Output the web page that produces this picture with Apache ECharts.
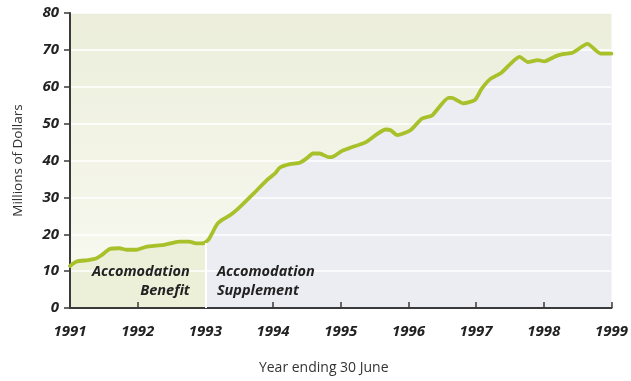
<!DOCTYPE html>
<html>
<head>
<meta charset="utf-8">
<script src="https://cdn.jsdelivr.net/npm/echarts@6/dist/echarts.min.js"></script>
<style>
  html, body { margin: 0; padding: 0; background: #ffffff; }
  #chart { width: 631px; height: 381px; }
</style>
</head>
<body>
<div id="chart"></div>
<script>
// Accommodation assistance spending, year ending 30 June (decimal years)
const periods = [
  1991.000, 1991.098, 1991.268, 1991.391, 1991.464, 1991.586, 1991.733, 1991.831,
  1991.977, 1992.124, 1992.270, 1992.392, 1992.612, 1992.758, 1992.880, 1992.978,
  1993.051, 1993.173, 1993.246, 1993.369, 1993.516, 1993.711, 1993.905, 1994.029,
  1994.102, 1994.248, 1994.395, 1994.492, 1994.590, 1994.688, 1994.824, 1994.883,
  1995.019, 1995.151, 1995.371, 1995.664, 1995.737, 1995.835, 1996.030, 1996.201,
  1996.348, 1996.593, 1996.641, 1996.812, 1996.982, 1997.081, 1997.202, 1997.374,
  1997.545, 1997.642, 1997.765, 1997.912, 1998.008, 1998.179, 1998.301, 1998.424,
  1998.644, 1998.839, 1998.960, 1999.000
];
// Millions of dollars
const spending = [
  11.4, 12.6, 13.0, 13.5, 14.3, 16.0, 16.2, 15.8,
  15.8, 16.6, 16.9, 17.1, 18.0, 18.0, 17.5, 17.6,
  18.7, 22.7, 23.9, 25.2, 27.5, 31.0, 34.6, 36.5,
  38.1, 39.0, 39.4, 40.5, 41.9, 41.9, 40.9, 41.0,
  42.6, 43.5, 45.0, 48.4, 48.2, 46.9, 48.2, 51.4,
  52.2, 57.0, 57.0, 55.5, 56.4, 59.4, 62.0, 63.8,
  66.9, 68.1, 66.7, 67.2, 66.9, 68.3, 68.9, 69.2,
  71.6, 69.0, 69.0, 69.0
];
// Changeover from Accomodation Benefit to Accomodation Supplement
const changeoverYear = 1993;
const changeoverValue = 17.6;
const yearTicks = [1991, 1992, 1993, 1994, 1995, 1996, 1997, 1998, 1999];
const valueTicks = [0, 10, 20, 30, 40, 50, 60, 70, 80];

const points = periods.map((p, i) => [p, spending[i]]);
const xMin = yearTicks[0], xMax = yearTicks[yearTicks.length - 1];
const splitAt = (changeoverYear - xMin) / (xMax - xMin);

const tickFont = {
  fontFamily: 'Open Sans', fontWeight: 'bold', fontStyle: 'italic',
  fontSize: 15, color: '#222222'
};
const axisDark = '#3a3a3a';

const chart = echarts.init(document.getElementById('chart'), null, { renderer: 'canvas' });
chart.setOption({
  animation: false,
  backgroundColor: '#ffffff',
  grid: {
    left: 70, right: 15, top: 13, bottom: 73,
    show: true, borderWidth: 0,
    backgroundColor: new echarts.graphic.LinearGradient(0, 0, 0, 1, [
      { offset: 0, color: '#eceedb' },
      { offset: 1, color: '#f9faf2' }
    ])
  },
  xAxis: {
    type: 'value', min: xMin, max: xMax, interval: 1, z: 2,
    name: 'Year ending 30 June', nameLocation: 'middle', nameGap: 53,
    nameTextStyle: { fontFamily: 'Open Sans', fontSize: 14, color: '#333333', padding: [0, 34, 0, 0] },
    axisLine: { lineStyle: { color: axisDark, width: 2 } },
    axisTick: { inside: true, length: 6, lineStyle: { color: axisDark, width: 1.5 } },
    axisLabel: Object.assign({ margin: 16, formatter: v => String(v) }, tickFont),
    splitLine: { show: false }
  },
  yAxis: {
    type: 'value', min: valueTicks[0], max: valueTicks[valueTicks.length - 1], interval: 10, z: 2,
    name: 'Millions of Dollars', nameLocation: 'middle', nameGap: 45,
    nameTextStyle: { fontFamily: 'Open Sans', fontSize: 13.5, color: '#333333' },
    axisLine: { show: true, lineStyle: { color: axisDark, width: 2 } },
    axisTick: { show: true, inside: false, length: 6, lineStyle: { color: axisDark, width: 1.5 } },
    axisLabel: Object.assign({ margin: 11 }, tickFont),
    splitLine: { show: true, lineStyle: { color: '#ffffff', width: 1.5 } }
  },
  series: [
    {
      name: 'area',
      type: 'line',
      data: points,
      z: 1,
      symbol: 'none',
      smooth: 0.2,
      lineStyle: { width: 0 },
      areaStyle: {
        opacity: 1,
        color: new echarts.graphic.LinearGradient(0, 0, 1, 0, [
          { offset: 0, color: '#edf0d9' },
          { offset: splitAt, color: '#edf0d9' },
          { offset: splitAt, color: '#ececf3' },
          { offset: 1, color: '#ececf3' }
        ])
      },
      markLine: {
        silent: true, symbol: 'none', animation: false,
        lineStyle: { color: '#ffffff', width: 2, type: 'solid' },
        label: { show: false },
        data: [[{ coord: [changeoverYear, 0] }, { coord: [changeoverYear, changeoverValue] }]]
      },
      markPoint: {
        silent: true, symbol: 'circle', symbolSize: 0,
        label: {
          show: true, position: 'inside',
          fontFamily: 'Open Sans', fontWeight: 'bold', fontStyle: 'italic',
          fontSize: 14.5, color: '#222222', lineHeight: 19
        },
        data: [
          { coord: [1992.77, 7.3], label: { formatter: 'Accomodation\nBenefit', align: 'right' } },
          { coord: [1993.17, 7.3], label: { formatter: 'Accomodation\nSupplement', align: 'left' } }
        ]
      }
    },
    {
      name: 'spending',
      type: 'line',
      data: points,
      z: 3,
      symbol: 'none',
      smooth: 0.2,
      lineStyle: { color: '#a8c12b', width: 3.8, cap: 'round', join: 'round' }
    }
  ]
});
</script>
</body>
</html>
